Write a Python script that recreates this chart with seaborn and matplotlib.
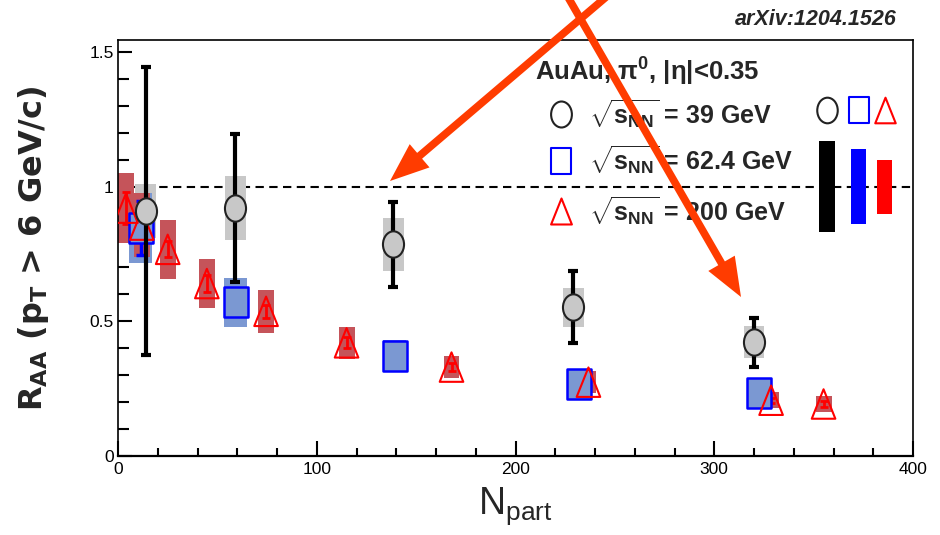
import numpy as np
import pandas as pd
import seaborn as sns
import matplotlib
matplotlib.use("Agg")
import matplotlib.pyplot as plt
from matplotlib.path import Path
from matplotlib.patches import FancyArrowPatch
from matplotlib.ticker import MultipleLocator, FixedLocator, FixedFormatter

# ---- R_AA of pi0 (pT > 6 GeV/c) vs N_part, Au+Au ----
energies = ["39", "62.4", "200"]

npart_39 = [14.0, 59.0, 138.5, 229.0, 320.0]
raa_39 = [0.91, 0.92, 0.785, 0.552, 0.422]
stat_39 = [0.535, 0.275, 0.158, 0.133, 0.09]
sys_39 = [0.10, 0.12, 0.10, 0.072, 0.06]

npart_62 = [11.5, 59.3, 139.3, 231.7, 322.6]
raa_62 = [0.845, 0.57, 0.37, 0.267, 0.233]
stat_62 = [0.10, 0.02, 0.015, 0.01, 0.01]
sys_62 = [0.13, 0.09, 0.06, 0.045, 0.04]

npart_200 = [4.0, 12.0, 25.0, 44.7, 74.5, 115.0, 167.8, 236.7, 328.6, 355.0]
raa_200 = [0.92, 0.857, 0.767, 0.64, 0.537, 0.42, 0.33, 0.274, 0.207, 0.193]
stat_200 = [0.06, 0.05, 0.03, 0.03, 0.025, 0.02, 0.015, 0.015, 0.01, 0.01]
sys_200 = [0.13, 0.12, 0.11, 0.09, 0.08, 0.06, 0.04, 0.04, 0.03, 0.03]

# global normalisation uncertainties (39, 62.4, 200 GeV)
norm_unc = [0.17, 0.14, 0.10]

x_ticks = [0, 100, 200, 300, 400]
y_ticks = [0, 0.5, 1, 1.5]
y_tick_labels = ["0", "0.5", "1", "1.5"]

# ---- style ----
sns.set_theme(style="white")
plt.rcParams["font.family"] = ["Liberation Sans", "DejaVu Sans"]
plt.rcParams.update({
    "mathtext.fontset": "custom",
    "mathtext.rm": "Liberation Sans",
    "mathtext.bf": "Liberation Sans:bold",
    "mathtext.it": "Liberation Sans:italic",
    "mathtext.sf": "Liberation Sans",
    "mathtext.default": "regular",
})
SANS = ["Liberation Sans", "DejaVu Sans"]

C_GRAY_BOX = "#c8c8c8"
C_BLUE_BOX = "#7b98d2"
C_RED_BOX = "#c5545a"
C_ARROW = "#ff3c00"

# slightly tall marker shapes
ELLIPSE = Path.unit_circle().transformed(matplotlib.transforms.Affine2D().scale(1, 1.25))
RECT = Path([(-1, -1.25), (1, -1.25), (1, 1.25), (-1, 1.25), (-1, -1.25)],
            [Path.MOVETO, Path.LINETO, Path.LINETO, Path.LINETO, Path.CLOSEPOLY])
TRI = Path([(0, 1.25), (-1, -1.25), (1, -1.25), (0, 1.25)],
           [Path.MOVETO, Path.LINETO, Path.LINETO, Path.CLOSEPOLY])

fig = plt.figure(figsize=(9.4, 5.35), dpi=100)
fig.patch.set_facecolor("white")
ax = fig.add_axes([118 / 940, 1 - 456 / 535, 795 / 940, 416 / 535])
ax.set_facecolor("white")

df39 = pd.DataFrame({"npart": npart_39, "raa": raa_39, "stat": stat_39, "sys": sys_39})
df62 = pd.DataFrame({"npart": npart_62, "raa": raa_62, "stat": stat_62, "sys": sys_62})
df200 = pd.DataFrame({"npart": npart_200, "raa": raa_200, "stat": stat_200, "sys": sys_200})

# reference line at R_AA = 1
ax.axhline(1.0, color="black", lw=1.5, ls=(0, (4, 2.6)), zorder=0.5)

# systematic uncertainty boxes
ax.bar(df39.npart, 2 * df39.sys, bottom=df39.raa - df39.sys, width=10.5,
       color=C_GRAY_BOX, linewidth=0, zorder=1)
ax.bar(df62.npart, 2 * df62.sys, bottom=df62.raa - df62.sys, width=11.5,
       color=C_BLUE_BOX, linewidth=0, zorder=1.2)
ax.bar(df200.npart, 2 * df200.sys, bottom=df200.raa - df200.sys, width=8,
       color=C_RED_BOX, linewidth=0, zorder=1.4)

# statistical error bars
ax.errorbar(df62.npart, df62.raa, yerr=df62.stat, fmt="none", ecolor="blue",
            elinewidth=2.5, capsize=3.5, capthick=2.5, zorder=2)
ax.errorbar(df200.npart, df200.raa, yerr=df200.stat, fmt="none", ecolor="red",
            elinewidth=2, capsize=3, capthick=2, zorder=2.2)
ax.errorbar(df39.npart, df39.raa, yerr=df39.stat, fmt="none", ecolor="black",
            elinewidth=3, capsize=3.5, capthick=3, zorder=4)

# data points
sns.scatterplot(data=df62, x="npart", y="raa", marker=RECT, s=440, ax=ax,
                facecolor=C_BLUE_BOX, edgecolor="blue", linewidth=1.8, zorder=3)
sns.scatterplot(data=df200, x="npart", y="raa", marker=TRI, s=450, ax=ax,
                facecolor="none", edgecolor="red", linewidth=1.5, zorder=3.2)
sns.scatterplot(data=df39, x="npart", y="raa", marker=ELLIPSE, s=360, ax=ax,
                facecolor=C_GRAY_BOX, edgecolor="#222222", linewidth=1.5, zorder=4.5)

# global normalisation bars
norm_x = [356.8, 372.6, 385.7]
norm_colors = ["black", "blue", "red"]
ax.bar(norm_x, [2 * u for u in norm_unc], bottom=[1 - u for u in norm_unc],
       width=[8, 7.6, 7.6], color=norm_colors, linewidth=0, zorder=2)

# marker key above the normalisation bars
for xx, mk, col in zip(norm_x, [ELLIPSE, RECT, TRI], ["#222222", "blue", "red"]):
    ax.scatter([xx], [1.285], marker=mk, s=340, facecolor="white",
               edgecolor=col, linewidth=1.5, zorder=5)

# axes, ticks
ax.set_xlim(0, 400)
ax.set_ylim(0, 1.544)
ax.xaxis.set_major_locator(FixedLocator(x_ticks))
ax.xaxis.set_minor_locator(MultipleLocator(20))
ax.yaxis.set_major_locator(FixedLocator(y_ticks))
ax.yaxis.set_major_formatter(FixedFormatter(y_tick_labels))
ax.yaxis.set_minor_locator(MultipleLocator(0.1))
ax.tick_params(axis="both", which="both", direction="in", colors="black",
               left=True, bottom=True, top=False, right=False, width=1.5)
ax.tick_params(axis="x", which="major", length=11, pad=4)
ax.tick_params(axis="x", which="minor", length=6)
ax.tick_params(axis="y", which="major", length=10, pad=3)
ax.tick_params(axis="y", which="minor", length=8)
for lab in ax.get_xticklabels() + ax.get_yticklabels():
    lab.set_family(SANS)
    lab.set_fontsize(12.5)
for sp in ax.spines.values():
    sp.set_color("black")
    sp.set_linewidth(1.2)
ax.spines["bottom"].set_linewidth(1.6)

ax.set_xlabel(r"N$_{\mathrm{part}}$", family=SANS, fontsize=27, va="top")
ax.xaxis.set_label_coords(0.5, -0.07)
ax.set_ylabel(r"R$_{AA}$ (p$_{T}$ > 6 GeV/c)", family=["DejaVu Sans"],
              fontsize=23, fontweight="bold", va="center")
ax.yaxis.set_label_coords(-0.106, 0.5)

# key text
ax.text(0.5245, 0.923, r"AuAu, $\pi^{0}$, |$\eta$|<0.35", transform=ax.transAxes,
        family=SANS, fontsize=18.5, fontweight="bold", ha="left", va="center")
key_y = [0.821, 0.710, 0.588]
for e, yy, mk, col in zip(energies, key_y, [ELLIPSE, RECT, TRI], ["#222222", "blue", "red"]):
    ax.scatter([0.557], [yy], marker=mk, s=350, facecolor="white", edgecolor=col,
               linewidth=1.5, transform=ax.transAxes, clip_on=False, zorder=5)
    ax.text(0.593, yy, r"$\sqrt{s_{NN}}$ = " + e + " GeV", transform=ax.transAxes,
            family=SANS, fontsize=18, fontweight="bold", ha="left", va="center",
            zorder=5)

# reference tag
fig.text(0.868, 0.963, "arXiv:1204.1526", fontsize=15.5, fontweight="bold",
         fontstyle="italic", ha="center", va="center")

# highlighting arrows
arrow_style = "simple,head_width=22,head_length=28,tail_width=5.5"
for tail, head in [((612, -8), (390, 181)), ((565, -8), (741, 297))]:
    fig.add_artist(FancyArrowPatch(
        (tail[0] / 940, 1 - tail[1] / 535), (head[0] / 940, 1 - head[1] / 535),
        transform=fig.transFigure, arrowstyle=arrow_style, color=C_ARROW,
        linewidth=0, shrinkA=0, shrinkB=0, mutation_scale=1, zorder=10))

fig.savefig("out.png", dpi=100, facecolor="white")
